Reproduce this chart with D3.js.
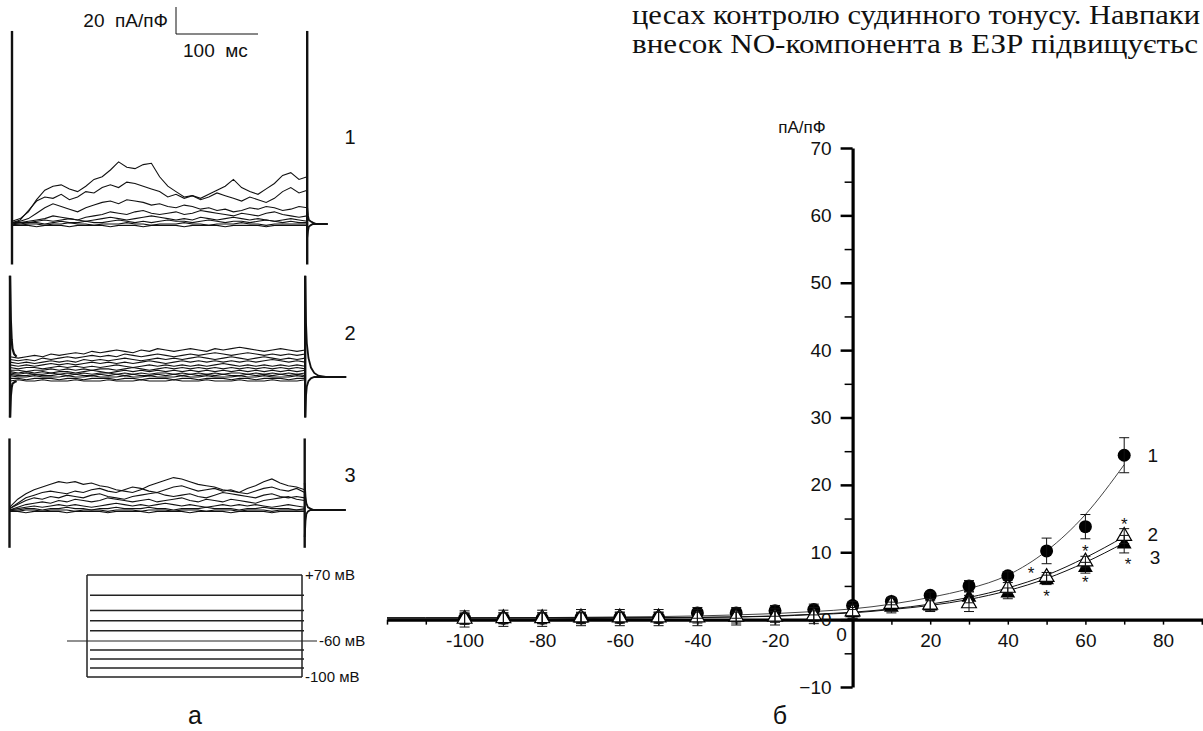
<!DOCTYPE html>
<html>
<head>
<meta charset="utf-8">
<script src="https://cdn.jsdelivr.net/npm/d3@7"></script>
<style>
  body { margin: 0; background: #fff; }
  svg { display: block; }
  text { font-family: "Liberation Sans", Arial, sans-serif; fill: #111; }
  .serif { font-family: "Liberation Serif", "Times New Roman", serif; }
</style>
</head>
<body>
<svg id="chart"></svg>
<script>
// ---------- data: current traces (пА/пФ), sampled every 10 ms of the pulse ----------
const traceTimes = [0,10,20,30,40,50,60,70,80,90,100,110,120,130,140,150,160,170,180,
  190,200,210,220,230,240,250,260,270,280,290,300,310,320,330,340,350,360];

const tracesCtrl = [
  [2,4,9,18,25,28,29,26,24,28,33,35,40,46,42,41,44,45,35,28,24,20,21,19,22,25,28,33,27,24,22,26,30,36,38,33,35],
  [1,3,10,17,20,19,22,18,20,24,23,27,29,27,31,30,28,26,24,20,22,19,21,18,20,23,21,19,17,20,18,16,19,24,27,23,25],
  [1,2,4,8,12,15,13,11,9,12,14,16,17,15,18,17,16,14,15,13,12,14,13,11,12,10,11,9,10,12,11,13,12,10,11,13,12],
  [1,1,2,3,4,6,5,4,3,5,6,7,9,8,7,9,10,8,7,8,9,7,8,10,9,8,7,6,8,7,6,8,9,7,6,5,6],
  [0,1,1,2,3,2,3,4,3,2,3,4,5,4,3,4,5,6,5,4,3,4,3,5,4,3,4,5,4,3,4,3,2,3,4,3,2],
  [0,0,1,1,0,1,2,1,1,2,1,1,2,3,2,1,2,1,2,3,2,2,1,2,3,2,1,2,2,1,2,3,2,1,2,1,1],
  [0,-1,0,0,-1,0,0,1,0,0,-1,0,0,0,1,0,0,-1,0,0,0,1,0,0,-1,0,0,0,1,0,0,-1,0,0,0,0,0],
  [-1,-1,-1,-2,-1,-1,-1,-2,-1,-1,-1,-1,-2,-1,-1,-1,-2,-1,-1,-1,-1,-2,-1,-1,-1,-1,-2,-1,-1,-1,-1,-2,-1,-1,-1,-1,-1]
];

const tracesSecond = [
  [15,14,15,16,15,17,16,17,18,17,19,18,19,20,19,18,20,19,21,20,19,20,21,20,19,21,20,21,22,21,20,19,20,21,20,19,20],
  [13,12,13,12,14,13,14,15,14,15,16,15,16,15,17,16,15,16,17,16,15,16,17,16,17,18,17,16,17,18,17,16,17,16,17,16,17],
  [11,10,11,10,11,12,11,12,11,13,12,13,12,13,14,13,12,13,14,13,14,13,14,15,14,13,14,15,14,13,14,15,14,13,14,13,14],
  [9,8,9,8,9,10,9,10,9,10,11,10,11,10,11,10,11,12,11,10,11,12,11,12,11,12,11,12,11,12,11,12,13,12,11,12,11],
  [7,6,7,7,6,7,8,7,8,7,8,7,8,9,8,7,8,9,8,9,8,9,8,9,8,9,10,9,8,9,8,9,8,9,8,9,8],
  [5,5,4,5,5,6,5,6,5,6,5,6,6,5,6,7,6,5,6,7,6,7,6,7,6,7,6,7,6,7,6,7,6,7,6,7,6],
  [4,3,4,3,4,3,4,4,3,4,5,4,3,4,5,4,5,4,5,4,5,4,5,4,5,4,5,4,5,4,5,4,5,4,5,4,5],
  [3,2,3,2,2,3,2,3,2,3,2,3,3,2,3,2,3,2,3,3,2,3,2,3,2,3,2,3,3,2,3,2,3,2,3,2,3],
  [2,1,1,2,1,1,2,1,2,1,1,2,1,2,1,2,1,1,2,1,2,1,2,1,2,1,2,1,1,2,1,2,1,2,1,2,1],
  [1,0,0,1,0,0,0,1,0,0,1,0,0,0,1,0,0,1,0,0,0,1,0,0,1,0,0,0,1,0,0,1,0,0,0,1,0],
  [-1,-1,-2,-1,-1,-1,-2,-1,-1,-2,-1,-1,-1,-2,-1,-1,-2,-1,-1,-1,-2,-1,-1,-2,-1,-1,-1,-2,-1,-1,-2,-1,-1,-1,-2,-1,-1],
  [-3,-2,-3,-3,-2,-3,-3,-3,-2,-3,-3,-3,-2,-3,-3,-3,-2,-3,-3,-3,-2,-3,-3,-3,-2,-3,-3,-3,-2,-3,-3,-3,-2,-3,-3,-3,-2]
];

const tracesThird = [
  [2,8,12,15,17,19,21,20,21,19,20,18,17,15,14,13,15,18,20,22,24,23,21,19,18,17,15,14,13,16,18,21,23,20,18,17,15],
  [1,5,9,11,13,14,13,12,14,13,15,16,14,13,15,17,16,14,13,15,17,18,16,14,15,16,14,15,13,12,14,16,17,15,14,16,13],
  [1,4,7,9,8,10,9,11,10,9,11,12,10,9,8,10,11,12,13,11,10,11,12,10,9,11,13,12,11,10,9,11,12,10,9,10,9],
  [0,2,4,5,6,5,7,6,8,7,6,7,9,8,7,6,7,8,6,7,8,9,7,6,8,7,6,8,7,6,5,7,8,9,10,8,7],
  [0,1,2,3,2,3,4,3,4,3,2,3,4,5,4,3,4,3,4,5,4,3,4,3,2,3,4,3,4,3,4,3,2,3,4,3,2],
  [0,0,1,1,0,1,1,2,1,1,0,1,1,2,1,1,1,2,1,1,0,1,1,1,2,1,1,1,0,1,1,2,1,1,1,0,1],
  [0,-1,0,0,-1,0,0,0,-1,0,0,0,-1,0,0,0,-1,0,0,0,-1,0,0,0,-1,0,0,0,-1,0,0,0,-1,0,0,0,0],
  [-1,-1,-2,-1,-1,-1,-1,-2,-1,-1,-1,-1,-2,-1,-1,-1,-1,-2,-1,-1,-1,-1,-2,-1,-1,-1,-1,-2,-1,-1,-1,-1,-2,-1,-1,-1,-1]
];

// capacitive transients (пА/пФ): peak up / peak down at pulse on and off
const spikeUp = [143, 75, 53];
const spikeDown = [-30, -30, -28];
// decay after pulse end
const tailTimes = [360, 361, 362, 364, 367, 371, 376, 385, 395, 410];
const tailUp = [
  [12, 6, 3, 2, 1, 0, 0, 0, 0, 0],
  [75, 40, 25, 14, 7, 3, 1, 0, 0, 0],
  [20, 10, 5, 2, 1, 0, 0, 0, 0, 0]
];
const tailDown = [
  [-10, -5, -2, -1, 0, 0, 0, 0, 0, 0],
  [-30, -14, -7, -3, -1, 0, 0, 0, 0, 0],
  [-20, -8, -3, -1, 0, 0, 0, 0, 0, 0]
];
// decay of the on-transient in trace set 2
const onsetTimes = [0, 1, 2, 3, 5, 8];
const onsetUp = [75, 42, 28, 21, 17, 15];
const onsetDown = [-30, -14, -8, -5, -4, -3];
const traceLabels = ["1", "2", "3"];

// voltage protocol (мВ)
const holdingV = -60;
const stepLevels = [70, 30, 0, -20, -40, -70, -80, -90, -100];
const protocolLabels = [["+70 мВ", 70], ["-60 мВ", -60], ["-100 мВ", -100]];

// ---------- data: I–V relation ----------
const ivVoltages = [-100,-90,-80,-70,-60,-50,-40,-30,-20,-10,0,10,20,30,40,50,60,70];
const iv1 = [0.2,0.2,0.2,0.3,0.3,0.3,1.0,1.0,1.3,1.5,2.1,2.7,3.6,5.0,6.5,10.2,13.8,24.4];
const iv1Err = [0.8,0.8,0.8,0.8,0.8,0.8,0.8,0.8,0.8,0.8,0.6,0.5,0.5,0.8,0.6,1.9,1.8,2.6];
const iv2 = [0.1,0.2,0.2,0.3,0.3,0.3,0.3,0.4,0.4,0.6,1.2,2.3,2.2,2.4,4.7,6.3,8.6,12.4];
const iv2Err = [1.2,1.2,1.2,1.2,1.2,1.2,1.2,1.2,1.2,1.2,1.0,1.0,0.9,1.2,0.8,0.7,0.8,1.1];
const iv3 = [0.1,0.2,0.2,0.2,0.3,0.3,0.3,0.3,0.4,0.5,1.0,1.8,2.0,3.3,3.9,5.9,7.7,11.2];
const iv3Err = [0.8,0.8,0.8,0.8,0.8,0.8,0.8,0.8,0.8,0.8,0.8,0.8,0.8,0.8,0.8,0.7,0.8,1.3];

const fitVoltages = [-120,-110,-100,-90,-80,-70,-60,-50,-40,-30,-20,-10,0,10,20,30,40,50,60,70];
const fit1 = [0.2,0.2,0.2,0.25,0.3,0.35,0.4,0.45,0.55,0.7,0.9,1.2,1.6,2.3,3.3,4.6,6.6,10.2,15.6,23.0];
const fit2 = [0.3,0.3,0.3,0.3,0.3,0.3,0.3,0.3,0.35,0.4,0.55,0.8,1.1,1.6,2.3,3.3,4.7,6.6,9.2,12.3];
const fit3 = [0.1,0.1,0.1,0.1,0.1,0.15,0.2,0.25,0.3,0.4,0.5,0.75,1.0,1.5,2.1,3.0,4.3,6.1,8.5,11.4];

const asterisks = [[46, 7.3], [50, 3.9], [60, 10.6], [60, 6.1], [70, 14.7], [71, 8.7]];
const curveLabels = [["1", 76, 24.4], ["2", 76, 12.6], ["3", 76.6, 9.2]];
const xTickLabels = [-100, -80, -60, -40, -20, 20, 40, 60, 80];
const yTickLabels = [-10, 0, 10, 20, 30, 40, 50, 60, 70];

// the visible part of the page text (the scan is cropped at the right)
const textLines = ["цесах контролю судинного тонусу. Навпаки",
                   "внесок NO-компонента в ЕЗР підвищуєтьс"];

// ---------- drawing ----------
const W = 1203, H = 731;
const svg = d3.select("#chart").attr("width", W).attr("height", H);

svg.append("g").selectAll("text")
  .data(textLines).join("text")
  .attr("class", "serif")
  .attr("x", 632)
  .attr("y", (d, i) => 24 + i * 29)
  .attr("font-size", 27)
  .attr("textLength", (d, i) => i === 0 ? 568 : 566)
  .attr("lengthAdjust", "spacingAndGlyphs")
  .attr("fill", "#0a0a0a")
  .text(d => d);

// ===== panel а: current traces =====
const panelBase = [224, 377, 510];
const panelX0 = [12, 10, 9.5];
const traceSets = [tracesCtrl, tracesSecond, tracesThird];

const leftG = svg.append("g");

traceSets.forEach((set, p) => {
  const tx = d3.scaleLinear().domain([0, 100]).range([panelX0[p], panelX0[p] + 82]);
  const ty = d3.scaleLinear().domain([0, 20]).range([panelBase[p], panelBase[p] - 27]);
  const line = d3.line().x(d => tx(d[0])).y(d => ty(d[1]));
  const g = leftG.append("g");

  // traces
  g.selectAll("path.tr")
    .data(set).join("path")
    .attr("class", "tr")
    .attr("d", vals => line(traceTimes.map((t, i) => [t, vals[i]])))
    .attr("fill", "none")
    .attr("stroke", "#111")
    .attr("stroke-width", 1.1);

  // tail after pulse end
  const tailEnd = p === 0 ? 8 : 10;
  [tailUp[p], tailDown[p]].forEach(vals => {
    g.append("path")
      .attr("d", line(tailTimes.slice(0, tailEnd).map((t, i) => [t, vals[i]])))
      .attr("fill", "none").attr("stroke", "#111").attr("stroke-width", 1.8);
  });

  // onset decay (set 2 only)
  if (p === 1) {
    [onsetUp, onsetDown].forEach(vals => {
      g.append("path")
        .attr("d", line(onsetTimes.map((t, i) => [t, vals[i]])))
        .attr("fill", "none").attr("stroke", "#111").attr("stroke-width", 2.2);
    });
  }

  // capacitive spikes at on and off
  [0, 360].forEach(t => {
    g.append("line")
      .attr("x1", tx(t)).attr("x2", tx(t))
      .attr("y1", ty(spikeUp[p])).attr("y2", ty(spikeDown[p]))
      .attr("stroke", "#111").attr("stroke-width", 2.4);
  });

  g.append("text")
    .attr("x", 350).attr("y", ty(0) - (p === 0 ? 87 : p === 1 ? 44 : 35))
    .attr("text-anchor", "middle").attr("dy", "0.35em")
    .attr("font-size", 20)
    .text(traceLabels[p]);
});

// scale bar
const sbX = d3.scaleLinear().domain([0, 100]).range([176, 258]);
const sbY = d3.scaleLinear().domain([0, 20]).range([34, 7]);
leftG.append("path")
  .attr("d", `M${sbX(0)},${sbY(20)}V${sbY(0)}H${sbX(100)}`)
  .attr("fill", "none").attr("stroke", "#111").attr("stroke-width", 1);
leftG.append("text")
  .attr("x", 168).attr("y", 27).attr("text-anchor", "end")
  .attr("font-size", 19).attr("xml:space", "preserve")
  .text("20  пА/пФ");
leftG.append("text")
  .attr("x", 183).attr("y", 57)
  .attr("font-size", 19).attr("xml:space", "preserve")
  .text("100  мс");

// voltage protocol
const vy = d3.scaleLinear().domain([-100, -60, 70]).range([677, 641, 575]);
const protoG = leftG.append("g").attr("stroke", "#222").attr("stroke-width", 1.5);
protoG.selectAll("line.step")
  .data(stepLevels).join("line")
  .attr("class", "step")
  .attr("x1", d => (d === 70 || d === -100) ? 87 : 90)
  .attr("x2", d => (d === 70 || d === -100) ? 302 : 304)
  .attr("y1", d => vy(d)).attr("y2", d => vy(d));
protoG.append("line").attr("x1", 67).attr("x2", 317)
  .attr("y1", vy(holdingV)).attr("y2", vy(holdingV)).attr("stroke-width", 1.2);
[87, 302].forEach(x => protoG.append("line")
  .attr("x1", x).attr("x2", x).attr("y1", vy(70)).attr("y2", vy(-100)));
leftG.selectAll("text.pl")
  .data(protocolLabels).join("text")
  .attr("class", "pl")
  .attr("x", d => d[1] === -60 ? 319 : 305)
  .attr("y", d => vy(d[1])).attr("dy", "0.35em")
  .attr("font-size", 15)
  .text(d => d[0]);

leftG.append("text").attr("x", 195).attr("y", 724)
  .attr("text-anchor", "middle").attr("font-size", 25).text("а");

// ===== panel б: I–V curve =====
const x = d3.scaleLinear().domain([-120, 95]).range([387, 387 + 215 * 3.88]);
const y = d3.scaleLinear().domain([-10, 70]).range([687, 148]);
const ivG = svg.append("g");

// axes
const xAxis = ivG.append("g")
  .attr("transform", `translate(0,${y(0)})`)
  .call(d3.axisBottom(x)
    .tickValues(d3.range(-120, 91, 10))
    .tickSize(5).tickSizeOuter(0).tickPadding(9)
    .tickFormat(d => xTickLabels.includes(d) ? d : ""));
xAxis.select(".domain").attr("stroke-width", 3.2);
xAxis.selectAll(".tick line").attr("stroke-width", 1.5);
xAxis.selectAll("text").attr("font-size", 19)
  .attr("font-family", "Liberation Sans, Arial, sans-serif").attr("fill", "#111");

const yMinor = ivG.append("g")
  .attr("transform", `translate(${x(0)},0)`)
  .call(d3.axisLeft(y).tickValues(d3.range(-5, 70, 10)).tickSize(8).tickSizeOuter(0).tickFormat(""));
yMinor.select(".domain").remove();
yMinor.selectAll(".tick line").attr("stroke-width", 1.5);

const yAxis = ivG.append("g")
  .attr("transform", `translate(${x(0)},0)`)
  .call(d3.axisLeft(y).tickValues(yTickLabels).tickSize(12).tickSizeOuter(0).tickPadding(9));
yAxis.select(".domain").attr("stroke-width", 3.2);
yAxis.selectAll(".tick line").attr("stroke-width", 2.5);
yAxis.selectAll("text").attr("font-size", 19)
  .attr("font-family", "Liberation Sans, Arial, sans-serif").attr("fill", "#111");

ivG.append("text").attr("x", x(0) - 11).attr("y", y(0) + 15).attr("dy", "0.35em")
  .attr("text-anchor", "middle").attr("font-size", 19).text("0");
ivG.append("text").attr("x", 802).attr("y", 127).attr("dy", "0.35em")
  .attr("text-anchor", "middle").attr("font-size", 17).text("пА/пФ");
ivG.append("text").attr("x", 780).attr("y", 724)
  .attr("text-anchor", "middle").attr("font-size", 25).text("б");

// fitted curves
const fitLine = d3.line().curve(d3.curveMonotoneX);
[[fit1, "#444", 1], [fit2, "#111", 1], [fit3, "#111", 1]].forEach(([vals, col, w]) => {
  ivG.append("path")
    .attr("d", fitLine(fitVoltages.map((v, i) => [x(v), y(vals[i])])))
    .attr("fill", "none").attr("stroke", col).attr("stroke-width", w);
});

// markers
const tri = d3.symbol(d3.symbolTriangle, 95);
ivG.selectAll("circle.s1")
  .data(ivVoltages).join("circle").attr("class", "s1")
  .attr("cx", d => x(d)).attr("cy", (d, i) => y(iv1[i])).attr("r", 6.5)
  .attr("fill", "#000");
ivG.selectAll("path.s3")
  .data(ivVoltages).join("path").attr("class", "s3")
  .attr("transform", (d, i) => `translate(${x(d)},${y(iv3[i])})`)
  .attr("d", tri).attr("fill", "#000");
ivG.selectAll("path.s2")
  .data(ivVoltages).join("path").attr("class", "s2")
  .attr("transform", (d, i) => `translate(${x(d)},${y(iv2[i])})`)
  .attr("d", tri).attr("fill", "#fff").attr("stroke", "#000").attr("stroke-width", 1.2);

// error bars
[[iv1, iv1Err], [iv2, iv2Err], [iv3, iv3Err]].forEach(([vals, errs]) => {
  ivG.append("g").selectAll("path")
    .data(ivVoltages).join("path")
    .attr("d", (v, i) => {
      const cx = x(v), hi = y(vals[i] + errs[i]), lo = y(vals[i] - errs[i]);
      return `M${cx - 5},${hi}H${cx + 5}M${cx},${hi}V${lo}M${cx - 5},${lo}H${cx + 5}`;
    })
    .attr("fill", "none").attr("stroke", "#111").attr("stroke-width", 1);
});

// significance marks
ivG.selectAll("text.ast")
  .data(asterisks).join("text").attr("class", "ast")
  .attr("x", d => x(d[0])).attr("y", d => y(d[1]) + 9)
  .attr("text-anchor", "middle").attr("font-size", 17).attr("fill", "#000").text("*");

ivG.selectAll("text.cl")
  .data(curveLabels).join("text").attr("class", "cl")
  .attr("x", d => x(d[1])).attr("y", d => y(d[2])).attr("dy", "0.35em")
  .attr("font-size", 19).text(d => d[0]);
</script>
</body>
</html>
